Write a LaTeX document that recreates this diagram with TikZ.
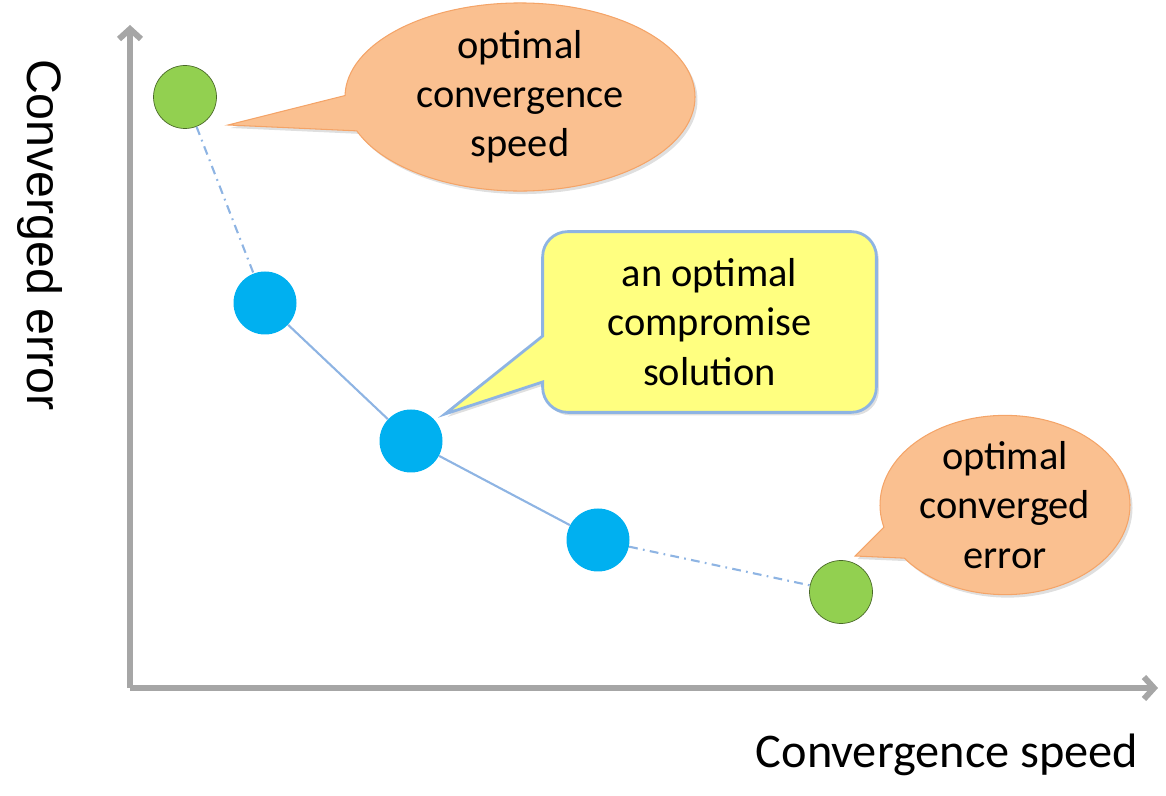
\documentclass[tikz,border=0pt]{standalone}
\usepackage{fontspec}
\setmainfont{Carlito}
\newfontfamily\arialfont{Liberation Sans}
\usetikzlibrary{arrows.meta,shapes.geometric,shapes.callouts,shadows,backgrounds}
\definecolor{ptgreen}{HTML}{92D050}
\definecolor{ptblue}{HTML}{00B0F0}
\definecolor{linkblue}{HTML}{8EB4E3}
\definecolor{ovalfill}{HTML}{FAC090}
\definecolor{ovalline}{HTML}{F4A468}
\definecolor{notefill}{HTML}{FFFF80}
\definecolor{axisgray}{HTML}{A6A6A6}

\begin{document}
\begin{tikzpicture}[
  font=\fontsize{23}{28}\selectfont,
  axis/.style={axisgray,line width=3.4pt,-{Straight Barb[length=0.2cm,width=0.44cm]}},
  point/.style={circle,inner sep=0pt,minimum size=1.26cm},
  best/.style={point,fill=ptgreen,draw=ptgreen!50!black,line width=0.4pt},
  trade/.style={point,fill=ptblue},
  link/.style={linkblue,line width=1.2pt},
  linkdash/.style={link,dash pattern=on 5pt off 3pt on 1pt off 3pt},
  shade/.style={drop shadow={opacity=0.25,shadow xshift=0.05cm,shadow yshift=-0.06cm}},
  oval/.style={ellipse callout,fill=ovalfill,draw=ovalline,line width=0.6pt,align=center,inner sep=0pt,callout pointer arc=22,shade},
  note/.style={fill=notefill,draw=linkblue,line width=1.6pt,shade},
  axislabel/.style={font=\fontsize{27.5}{32}\selectfont}
]
\useasboundingbox (0,0) rectangle (23.32,15.9);
\coordinate (o) at (2.6,2.14);
\coordinate (ytop) at (2.6,15.4);
\coordinate (xend) at (23.16,2.14);
\draw[axis] (o) -- (ytop);
\draw[axis] (o) -- (xend);
\node[axislabel,font=\arialfont\fontsize{27.5}{32}\selectfont,rotate=-90] (ylab) at (0.8,11.2) {Converged error};
\node[axislabel] (xlab) at (18.94,0.8) {Convergence speed};

\node[best] (g1) at (3.7,13.96) {};
\node[trade] (b1) at (5.3,9.84) {};
\node[trade] (b2) at (8.22,7.08) {};
\node[trade] (b3) at (11.96,5.1) {};
\node[best] (g2) at (16.82,4.06) {};
\draw[linkdash] (g1) -- (b1);
\draw[link] (b1) -- (b2);
\draw[link] (b2) -- (b3);
\draw[linkdash] (b3) -- (g2);

\coordinate (tip1) at (4.56,13.4);
\coordinate (tip2) at (8.9,7.62);
\coordinate (tip3) at (17.1,4.78);
\node[oval,minimum width=7cm,minimum height=3.3cm,callout absolute pointer=(tip1)] (speed) at (10.4,13.96) {optimal\\convergence\\speed};
\node[oval,minimum width=5cm,minimum height=3.44cm,callout absolute pointer=(tip3)] (error) at (20.1,5.8) {optimal\\converged\\error};
\node[align=center,minimum width=6.66cm,minimum height=3.6cm] (sol) at (14.19,9.46) {an optimal\\compromise\\solution};
\begin{scope}[on background layer]
\draw[note] (tip2) -- ([yshift=-0.28cm]sol.west) [rounded corners=0.5cm] -- (sol.north west) -- (sol.north east) -- (sol.south east) -- (sol.south west) [sharp corners] -- ([yshift=-1.2cm]sol.west) -- cycle;
\end{scope}
\end{tikzpicture}
\end{document}
